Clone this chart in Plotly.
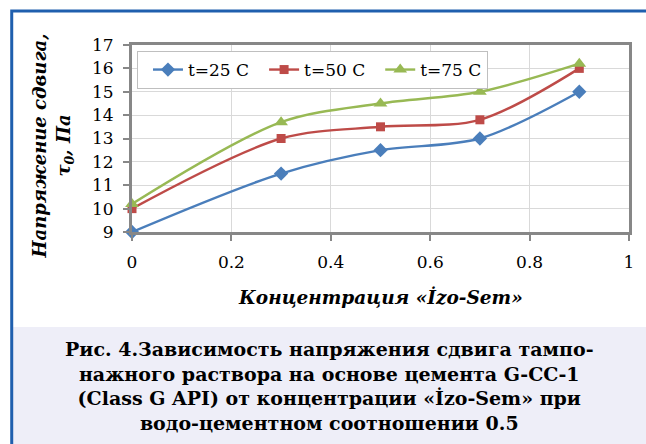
import plotly.graph_objects as go

x_conc = [0, 0.3, 0.5, 0.7, 0.9]
tau_25 = [9, 11.5, 12.5, 13, 15]
tau_50 = [10, 13, 13.5, 13.8, 16]
tau_75 = [10.2, 13.7, 14.5, 15, 16.2]
series_names = ["t=25 C", "t=50 C", "t=75 C"]
x_ticks = [0, 0.2, 0.4, 0.6, 0.8, 1]
x_tick_labels = ["0", "0.2", "0.4", "0.6", "0.8", "1"]
y_ticks = [9, 10, 11, 12, 13, 14, 15, 16, 17]

W, H = 646, 444
L, R, T, B = 132, 632, 45, 232

def px(xp):
    return (xp - L) / (R - L)

def py(yp):
    return (B - yp) / (B - T)

SERIF = "DejaVu Serif, Liberation Serif, serif"

fig = go.Figure()
styles = [
    ("#4a7ebb", "diamond", 11),
    ("#be4b48", "square", 9),
    ("#98b954", "triangle-up", 12),
]
for name, ys, (col, sym, sz) in zip(series_names, [tau_25, tau_50, tau_75], styles):
    fig.add_trace(go.Scatter(
        x=x_conc, y=ys, name=name, mode="lines+markers",
        line=dict(color=col, width=2.4, shape="spline", smoothing=0.9),
        marker=dict(color=col, symbol=sym, size=sz),
        cliponaxis=False,
    ))

fig.update_layout(
    width=W, height=H,
    margin=dict(l=L, r=W - R, t=T, b=H - B),
    paper_bgcolor="white", plot_bgcolor="white",
    font=dict(family=SERIF, size=17, color="black"),
    showlegend=True,
    legend=dict(
        orientation="h", x=px(137), y=py(51), xanchor="left", yanchor="top",
        bgcolor="white", bordercolor="#bfbfbf", borderwidth=1,
        indentation=10,
        font=dict(family=SERIF, size=17),
        tracegroupgap=0,
    ),
    xaxis=dict(
        range=[0, 1], tickvals=x_ticks, ticktext=x_tick_labels,
        showgrid=True, gridcolor="#d9d9d9", gridwidth=1,
        showline=True, linecolor="#878787", linewidth=3, mirror=True,
        ticks="outside", ticklen=6, tickcolor="#878787", tickwidth=2,
        ticklabelstandoff=7,
        zeroline=False, tickfont=dict(family=SERIF, size=17),
    ),
    yaxis=dict(
        range=[9, 17], tickvals=y_ticks,
        showgrid=True, gridcolor="#d9d9d9", gridwidth=1,
        showline=True, linecolor="#878787", linewidth=3, mirror=True,
        ticks="outside", ticklen=6, tickcolor="#878787", tickwidth=2,
        ticklabelstandoff=6,
        zeroline=False, tickfont=dict(family=SERIF, size=17),
    ),
)

# caption background and frame
fig.add_shape(type="rect", xref="paper", yref="paper",
              x0=px(12), x1=px(700), y0=py(327), y1=py(500),
              fillcolor="#eeeef8", line=dict(width=0), layer="below")
fig.add_shape(type="rect", xref="paper", yref="paper",
              x0=px(11), x1=px(700), y0=py(11), y1=py(500),
              fillcolor="rgba(0,0,0,0)", line=dict(color="#1f5fae", width=3), layer="above")

fig.add_annotation(xref="paper", yref="paper", x=px(52), y=py(146),
                   text="<b><i>Напряжение сдвига,<br>τ<sub>0</sub>, Па</i></b>",
                   textangle=-90, showarrow=False, font=dict(family=SERIF, size=18),
                   xanchor="center", yanchor="middle")
fig.add_annotation(xref="paper", yref="paper", x=px(382), y=py(297),
                   text="<b><i>Концентрация «İzo-Sem»</i></b>",
                   showarrow=False, font=dict(family=SERIF, size=18.5),
                   xanchor="center", yanchor="middle")
fig.add_annotation(xref="paper", yref="paper", x=px(331), y=py(386),
                   text=("<b>Рис. 4.Зависимость напряжения сдвига тампо-<br>"
                         "нажного раствора на основе цемента G-CC-1<br>"
                         "(Class G API) от концентрации «İzo-Sem» при<br>"
                         "водо-цементном соотношении 0.5</b>"),
                   showarrow=False, font=dict(family=SERIF, size=19),
                   xanchor="center", yanchor="middle", align="center")

fig.write_html("out.html")
